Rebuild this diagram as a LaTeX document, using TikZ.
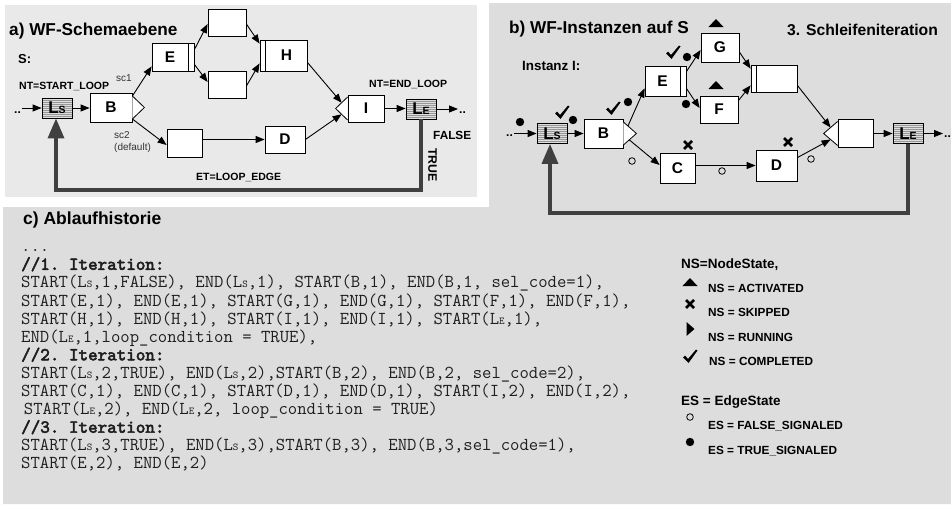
\documentclass[tikz,border=0pt]{standalone}
\usepackage{fontspec}
\setmainfont{Liberation Sans}
\newfontfamily\codebf{lmmono10-regular.otf}[FakeBold=3]
\usetikzlibrary{arrows.meta,calc}
\definecolor{panelA}{RGB}{233,233,233}
\definecolor{panelB}{RGB}{221,221,221}
\definecolor{hatchbg}{RGB}{222,222,222}
\definecolor{hatchln}{RGB}{150,150,150}
\definecolor{loopc}{RGB}{64,64,64}
\definecolor{scgray}{RGB}{50,50,50}
\definecolor{codec}{RGB}{30,30,30}
\newcommand\fsz[1]{\fontsize{#1}{#1}\selectfont}
\newcommand\Lbl[1]{L{\fsz{10.5}#1}}
\newcommand\cL[1]{L{\fsz{10.5}#1}}
\tikzset{
  box/.style={draw, fill=white, line width=0.8pt, inner sep=0pt, font=\bfseries\fsz{15.5}},
  sz/.style 2 args={minimum width=#1pt, minimum height=#2pt},
  barR/.style={path picture={\draw[line width=0.8pt] ([xshift=-6pt]path picture bounding box.north east) -- ([xshift=-6pt]path picture bounding box.south east);}},
  barL/.style={path picture={\draw[line width=0.8pt] ([xshift=5pt]path picture bounding box.north west) -- ([xshift=5pt]path picture bounding box.south west);}},
  lbox/.style={draw, line width=0.8pt, fill=hatchbg, inner sep=0pt, minimum width=30pt, minimum height=20pt, font=\bfseries\fsz{17},
    path picture={\foreach \k in {2,4,...,18}{\draw[hatchln, line width=0.4pt] ([yshift=-\k*1pt]path picture bounding box.north west) -- ([yshift=-\k*1pt]path picture bounding box.north east);}}},
  tri/.style={draw, fill=white, line width=0.8pt, line join=miter},
  arr/.style={line width=0.9pt, -{Triangle[length=9pt,width=7pt]}},
  loopl/.style={draw=loopc, line width=3.5pt, line join=miter, -{Triangle[length=20pt,width=16pt]}},
  lbl/.style={inner sep=0pt, anchor=base west, font=\bfseries\fsz{10.5}},
  sclbl/.style={inner sep=0pt, anchor=base west, font=\fsz{10}, text=scgray},
  leg/.style={inner sep=0pt, anchor=base west, font=\bfseries\fsz{11.8}},
  code/.style={inner sep=0pt, anchor=base west, text=codec, font=\ttfamily\fsz{18.2}\frenchspacing},
  codeb/.style={inner sep=0pt, anchor=base west, text=codec, font=\codebf\fsz{18.2}\frenchspacing},
  dots/.style={inner sep=1pt, anchor=base west, font=\bfseries\fsz{12}},
  pics/chk/.style={code={\fill (-7,0.5) -- (-5,-1.5) -- (-2,2) -- (6,-7.5) -- (7.5,-6.5) -- (-1.5,6) -- cycle;}},
  pics/crs/.style={code={\draw[line width=2.8pt] (-4,-4) -- (4,4) (-4,4) -- (4,-4);}},
  pics/atri/.style={code={\fill (-7.5,4) -- (7.5,4) -- (0,-4) -- cycle;}},
  pics/rtri/.style={code={\fill (-3.5,-7) -- (-3.5,7) -- (4.5,0) -- cycle;}},
  pics/fdot/.style={code={\fill (0,0) circle[radius=4.2pt];}},
  pics/odot/.style={code={\draw[line width=0.8pt] (0,0) circle[radius=3.3pt];}},
}
\begin{document}
\begin{tikzpicture}[x=1pt,y=-1pt]
\useasboundingbox (0,0) rectangle (951,504);
\fill[white] (0,0) rectangle (951,504);
\fill[panelB] (489,3) -- (951,3) -- (951,504) -- (3,504) -- (3,207) -- (489,207) -- cycle;
\fill[panelA] (5,5) rectangle (477,197);

% ---------------- panel a ----------------
\node[lbl, font=\bfseries\fsz{17.2}] (ta) at (9,35) {a) WF-Schemaebene};
\node[lbl, font=\bfseries\fsz{13}] (Sa) at (18,63.3) {S:};
\node[lbl] (nta) at (19,89.3) {NT=START\_LOOP};
\node[sclbl] (sc1) at (116,81.7) {sc1};
\node[sclbl] (sc2) at (114,138.5) {sc2};
\node[sclbl] (dflt) at (114,150.5) {(default)};
\node[lbl] (nte) at (369,87.3) {NT=END\_LOOP};
\node[lbl, font=\bfseries\fsz{11.8}] (fls) at (433,139.3) {FALSE};
\node[inner sep=0pt, rotate=-90, font=\bfseries\fsz{12.3}] (tru) at (432.5,165) {TRUE};
\node[lbl] (et) at (196,180) {ET=LOOP\_EDGE};

\node[dots] (ina) at (13,113.5) {..};
\node[lbox] (LSa) at (57,108) {\Lbl{S}};
\node[box, sz={42}{29}] (Ba) at (111,107.5) {B};
\node[box, barR, sz={42}{28}] (Ea) at (173,57) {E\hspace*{6pt}};
\node[box, sz={38}{27}] (U1a) at (227,22.5) {};
\node[box, sz={38}{27}] (U2a) at (227,84.5) {};
\node[box, barL, sz={47}{31}] (Ha) at (283.5,55.5) {\hspace*{6pt}H};
\node[box, sz={36}{27}] (Ia) at (366,108.5) {I};
\node[lbox] (LEa) at (421,109) {\Lbl{E}};
\node[dots] (outa) at (458,113.5) {..};
\node[box, sz={35}{28}] (U3a) at (184.5,143) {};
\node[box, sz={40}{27}] (Da) at (285,139.5) {D};

\coordinate (Bat) at ($(Ba.east)+(0,-11.5)$);
\coordinate (Bax) at ($(Ba.east)+(12,0)$);
\coordinate (Bab) at ($(Ba.east)+(0,11.5)$);
\draw[tri] (Bat) -- (Bax) -- (Bab);
\coordinate (Iat) at ($(Ia.west)+(0,-11.5)$);
\coordinate (Iax) at ($(Ia.west)+(-12,0)$);
\coordinate (Iab) at ($(Ia.west)+(0,11.5)$);
\draw[tri] (Iat) -- (Iax) -- (Iab);

\draw[arr] (ina.east |- LSa) -- (LSa.west);
\draw[arr] (LSa.east) -- (LSa.east -| Ba.west);
\draw[arr] (Bat) -- ([yshift=5pt]Ea.south west);
\draw[arr] (Bab) -- ([yshift=-2pt]U3a.west);
\draw[arr] ([yshift=-7pt]Ea.north east) -- ([yshift=-1.5pt]U1a.west);
\draw[arr] ([yshift=7pt]Ea.south east) -- ([yshift=2.5pt]U2a.west);
\draw[arr] ([yshift=-1.5pt]U1a.east) -- ([yshift=-4pt]Ha.north west);
\draw[arr] ([yshift=-1.5pt]U2a.east) -- ([yshift=8pt]Ha.south west);
\draw[arr] ([yshift=9pt]Ha.south east) -- ($(Iat)!0.5!(Iax)$);
\draw[arr] (Da.east) -- ($(Iab)!0.5!(Iax)$);
\draw[arr] (U3a.east |- Da) -- (Da.west);
\draw[arr] (Ia.east) -- (Ia.east -| LEa.west);
\draw[arr] (LEa.east) -- (outa.west |- LEa);
\coordinate (la) at (56,190);
\draw[loopl] (LEa.south) |- (la) -- (la |- LSa.south);

% ---------------- panel b ----------------
\node[lbl, font=\bfseries\fsz{17.2}] (tb) at (509,33.5) {b) WF-Instanzen auf S};
\node[lbl, font=\bfseries\fsz{15.7}] (ts) at (787,35) {3. Schleifeniteration};
\node[lbl, font=\bfseries\fsz{13.4}] (inst) at (522,70.7) {Instanz I:};

\node[dots] (inb) at (505,136.5) {..};
\node[lbox] (LSb) at (552,133.5) {\Lbl{S}};
\node[box, sz={39}{29}] (Bb) at (603.5,133.5) {B};
\node[box, barR, sz={41}{30}] (Eb) at (665.5,81) {E\hspace*{6pt}};
\node[box, sz={38}{29}] (Gb) at (720,47.5) {G};
\node[box, sz={38}{27}] (Fb) at (719,109.5) {F};
\node[box, barL, sz={46}{27}] (Jb) at (774,78.5) {};
\node[box, sz={35}{28}] (Ib) at (855.5,133.5) {};
\node[lbox] (LEb) at (908,133.5) {\Lbl{E}};
\node[dots] (outb) at (943,137.5) {..};
\node[box, sz={35}{30}] (Cb) at (677.5,168) {C};
\node[box, sz={41}{31}] (Db) at (776.5,165.5) {D};

\coordinate (Bbt) at ($(Bb.east)+(0,-11.5)$);
\coordinate (Bbx) at ($(Bb.east)+(13,0)$);
\coordinate (Bbb) at ($(Bb.east)+(0,11.5)$);
\draw[tri] (Bbt) -- (Bbx) -- (Bbb);
\coordinate (Ibt) at ($(Ib.west)+(0,-12)$);
\coordinate (Ibx) at ($(Ib.west)+(-14,0)$);
\coordinate (Ibb) at ($(Ib.west)+(0,12)$);
\draw[tri] (Ibt) -- (Ibx) -- (Ibb);

\draw[arr] (inb.east |- LSb) -- (LSb.west);
\draw[arr] (LSb.east) -- (LSb.east -| Bb.west);
\draw[arr] ($(Bbt)!0.35!(Bbx)$) -- ([yshift=8pt]Eb.south west);
\draw[arr] ($(Bbb)!0.45!(Bbx)$) -- ([yshift=3pt]Cb.west);
\draw[arr] ([yshift=-6pt]Eb.north east) -- ([yshift=-2.5pt]Gb.west);
\draw[arr] ([yshift=8pt]Eb.south east) -- ([yshift=1.5pt]Fb.west);
\draw[arr] ([yshift=-4.5pt]Gb.east) -- ([yshift=-4pt]Jb.north west);
\draw[arr] ([yshift=-5pt]Fb.north east) -- ([yshift=7pt]Jb.south west);
\draw[arr] ([yshift=7pt]Jb.south east) -- ($(Ibt)!0.5!(Ibx)$);
\draw[arr] ([yshift=-8pt]Db.north east) -- ($(Ibb)!0.5!(Ibx)$);
\draw[arr] (Cb.east |- Db) -- (Db.west);
\draw[arr] (Ib.east) -- (Ib.east -| LEb.west);
\draw[arr] (LEb.east) -- (outb.west |- LEb);
\coordinate (lb) at (550,213);
\draw[loopl] (LEb.south) |- (lb) -- (lb |- LSb.south);

% state markers
\pic at (520,122) {fdot};
\pic at (562,113) {chk};
\pic at (573,120) {fdot};
\pic at (613,109) {chk};
\pic at (628,102) {fdot};
\pic at (673,53) {chk};
\pic at (687,57) {fdot};
\pic at (686,104) {fdot};
\pic at (716,23) {atri};
\pic at (716,85) {atri};
\pic at (688,145) {crs};
\pic at (788,142) {crs};
\pic at (632,161) {odot};
\pic at (722,171) {odot};
\pic at (811,159) {odot};

% ---------------- panel c ----------------
\node[lbl, font=\bfseries\fsz{17.5}] (tc) at (23,224) {c) Ablaufhistorie};
\node[code] (c0) at (21,251.7) {...};
\node[codeb] (c1) at (21,269.8) {//1. Iteration:};
\node[code] (c2) at (21,287.9) {START(\cL{S},1,FALSE), END(\cL{S},1), START(B,1), END(B,1, sel\_code=1),};
\node[code] (c3) at (21,306.0) {START(E,1), END(E,1), START(G,1), END(G,1), START(F,1), END(F,1),};
\node[code] (c4) at (21,324.1) {START(H,1), END(H,1), START(I,1), END(I,1), START(\cL{E},1),};
\node[code] (c5) at (21,342.2) {END(\cL{E},1,loop\_condition = TRUE),};
\node[codeb] (c6) at (21,360.3) {//2. Iteration:};
\node[code] (c7) at (21,378.4) {START(\cL{S},2,TRUE), END(\cL{S},2),START(B,2), END(B,2, sel\_code=2),};
\node[code] (c8) at (21,396.5) {START(C,1), END(C,1), START(D,1), END(D,1), START(I,2), END(I,2),};
\node[code] (c9) at (21,414.6) {\hspace*{2.7pt}START(\cL{E},2), END(\cL{E},2, loop\_condition = TRUE)};
\node[codeb] (c10) at (21,432.7) {//3. Iteration:};
\node[code] (c11) at (21,450.8) {START(\cL{S},3,TRUE), END(\cL{S},3),START(B,3), END(B,3,sel\_code=1),};
\node[code] (c12) at (21,468.9) {START(E,2), END(E,2)};

% legend
\node[lbl, font=\bfseries\fsz{13.5}] (lg0) at (681,268) {NS=NodeState,};
\pic at (690,282) {atri};
\node[leg] (lg1) at (708,292.7) {NS = ACTIVATED};
\pic at (690,304) {crs};
\node[leg] (lg2) at (708,316) {NS = SKIPPED};
\pic at (690,329) {rtri};
\node[leg] (lg3) at (708,341) {NS = RUNNING};
\pic at (690,357) {chk};
\node[leg] (lg4) at (709,365) {NS = COMPLETED};
\node[lbl, font=\bfseries\fsz{13.5}] (lg5) at (681,405.7) {ES = EdgeState};
\pic at (690,417) {odot};
\node[leg] (lg6) at (708,429.3) {ES = FALSE\_SIGNALED};
\pic at (690,442) {fdot};
\node[leg] (lg7) at (708,454) {ES = TRUE\_SIGNALED};
\end{tikzpicture}
\end{document}
